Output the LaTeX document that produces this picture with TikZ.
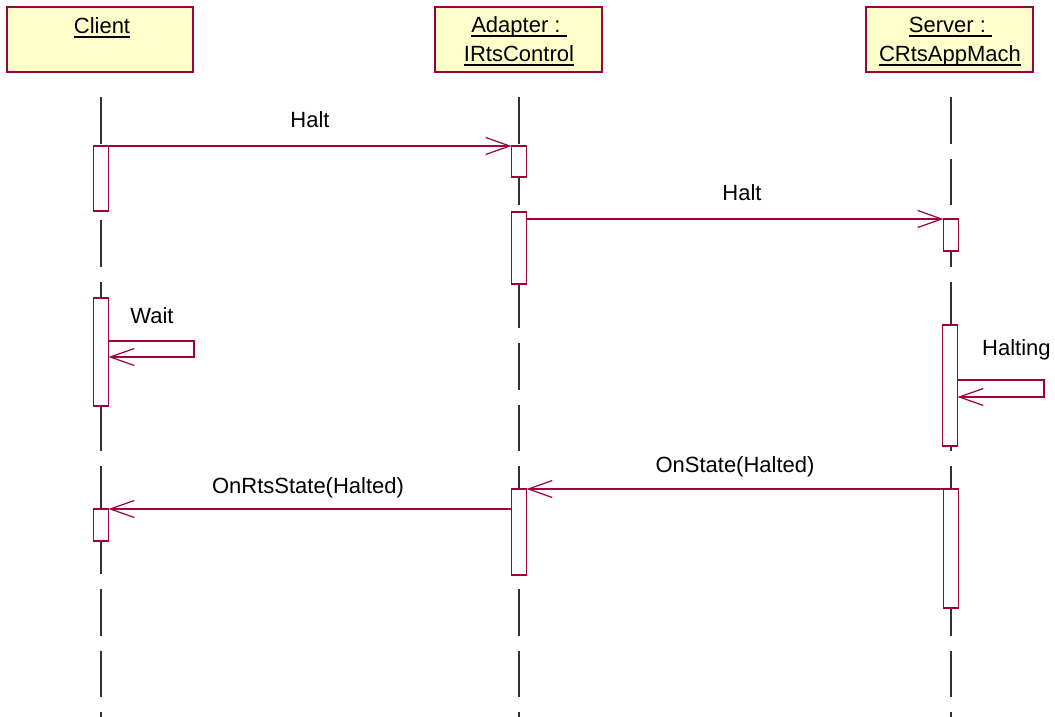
\documentclass[tikz,border=0pt]{standalone}
\usepackage{fontspec}
\setmainfont{Liberation Sans}
\usetikzlibrary{arrows.meta}
\definecolor{mar}{RGB}{160,0,60}
\definecolor{boxfill}{RGB}{255,255,204}
\definecolor{lifegray}{RGB}{50,50,50}
% underline drawn at a fixed depth below the baseline
\newcommand\undertext[1]{\setbox0\hbox{#1}\rlap{\rule[-4.3pt]{\wd0}{1.8pt}}\box0}
\begin{document}
\begin{tikzpicture}[x=1pt,y=-1pt,
  font=\fontsize{22}{29}\selectfont,
  head/.style={draw=mar, fill=boxfill, line width=1.3pt, minimum height=65pt,
    inner sep=0pt, outer sep=0pt, anchor=north},
  act/.style={draw=mar, fill=white, line width=1.3pt, minimum width=15pt,
    inner sep=0pt, outer sep=0pt, anchor=north},
  lifeline/.style={draw=lifegray, line width=1.2pt, dash pattern=on 46.5pt off 15pt},
  msg/.style={draw=mar, line width=1.2pt, -{Straight Barb[length=24pt,width=17pt]}},
  lbl/.style={anchor=base, inner sep=0pt}]
\useasboundingbox (0,0) rectangle (1055,717);

% object headers
\node[head, minimum width=186pt] (client) at (100,7) {};
\node[head, minimum width=167pt] (adapter) at (518.5,7) {};
\node[head, minimum width=167pt] (server) at (949.5,7) {};
\node[lbl] (client-t) at (102,34) {\undertext{Client}};
\node[lbl] (adapter-t1) at (519,33) {\undertext{Adapter :\ }};
\node[lbl] (adapter-t2) at (519,62) {\undertext{IRtsControl}};
\node[lbl] (server-t1) at (950.5,33) {\undertext{Server :\ }};
\node[lbl] (server-t2) at (950,62) {\undertext{CRtsAppMach}};

% lifelines
\coordinate (client-top) at (101,97);
\coordinate (client-end) at (101,717);
\coordinate (adapter-top) at (519,97);
\coordinate (adapter-end) at (519,717);
\coordinate (server-top) at (951,97);
\coordinate (server-end) at (951,717);
\draw[lifeline] (client-top) -- (client-end);
\draw[lifeline] (adapter-top) -- (adapter-end);
\draw[lifeline] (server-top) -- (server-end);

% activations
\node[act, minimum height=65pt] (c1) at (101,146) {};
\node[act, minimum height=108pt] (c2) at (101,298) {};
\node[act, minimum height=32pt] (c3) at (101,509) {};
\node[act, minimum height=31pt] (a1) at (519,146) {};
\node[act, minimum height=72pt] (a2) at (519,212) {};
\node[act, minimum height=86pt] (a3) at (519,489) {};
\node[act, minimum height=32pt] (s1) at (951,219) {};
\node[act, minimum height=121pt] (s2) at (950,325) {};
\node[act, minimum height=119pt] (s3) at (951,489) {};

% messages
\draw[msg] (c1.north east) -- (a1.north west);
\draw[msg] (a2.east |- s1.north) -- (s1.north west);
\draw[msg] (s3.north west) -- (a3.north east);
\draw[msg] (a3.west |- c3.north) -- (c3.north east);

% self messages
\coordinate (wait-r1) at (194,341);
\coordinate (wait-r2) at (194,357);
\draw[msg] (c2.east |- wait-r1) -- (wait-r1) -- (wait-r2) -- (c2.east |- wait-r2);
\coordinate (halt-r1) at (1044,380);
\coordinate (halt-r2) at (1044,397);
\draw[msg] (s2.east |- halt-r1) -- (halt-r1) -- (halt-r2) -- (s2.east |- halt-r2);

% message labels
\node[lbl] (m1) at (310,127) {Halt};
\node[lbl] (m2) at (742,200) {Halt};
\node[lbl] (m3) at (152,323) {Wait};
\node[lbl, anchor=base west] (m4) at (982,355) {Halting};
\node[lbl] (m5) at (735,472) {OnState(Halted)};
\node[lbl] (m6) at (308,493) {OnRtsState(Halted)};
\end{tikzpicture}
\end{document}
